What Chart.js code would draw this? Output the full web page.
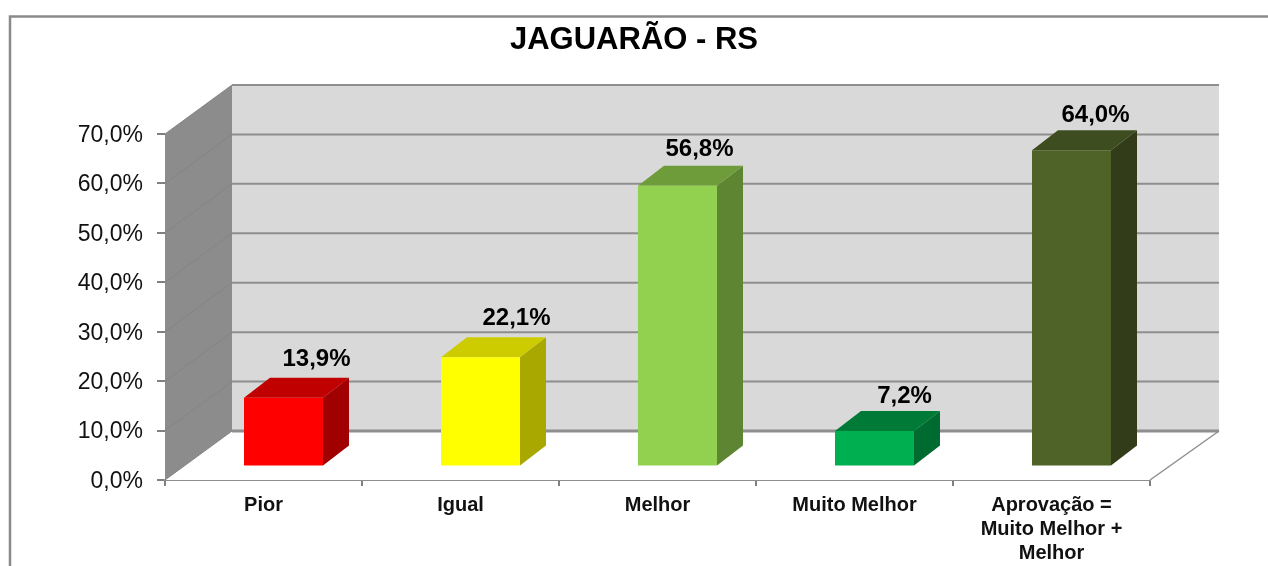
<!DOCTYPE html>
<html lang="pt-BR">
<head>
<meta charset="utf-8">
<title>JAGUARÃO - RS</title>
<script src="https://cdn.jsdelivr.net/npm/chart.js@4"></script>
<style>
html,body{margin:0;padding:0;background:#fff;overflow:hidden}
#wrap{position:relative;width:1268px;height:566px}
canvas{display:block;filter:blur(0.45px)}
</style>
</head>
<body>
<div id="wrap"><canvas id="c" width="1268" height="566"></canvas></div>
<script>
const chartTitle = 'JAGUARÃO - RS';
const categories = ['Pior', 'Igual', 'Melhor', 'Muito Melhor', ['Aprovação =', 'Muito Melhor +', 'Melhor']];
const values = [13.9, 22.1, 56.8, 7.2, 64.0];
const frontColors = ['#FF0000', '#FFFF00', '#92D050', '#00B050', '#4F6228'];
const topColors = ['#C00000', '#CCCC00', '#6E9C3A', '#007A37', '#3E4D1F'];
const sideColors = ['#A00000', '#A8A800', '#5E8632', '#006B30', '#323C18'];
const yTickStep = 10, yMax = 70;

// style / projection of the fake 3D look
const WALL = {dx: 67, dxRight: 69, dy: -49};
const BAR_SHIFT = {dx: 20, dy: -13.5};
const BAR_DEPTH = {dx: 26, dy: -20};
const LABEL_NUDGE = [{dx: 33, dy: -38.5}, {dx: 36, dy: -38.5}, {dx: 22, dy: -36}, {dx: 30, dy: -34.5}, {dx: 24, dy: -35}];
const pct = v => v.toFixed(1).replace('.', ',') + '%';
const FONT = '"Liberation Sans", Arial, sans-serif';

function poly(ctx, pts, fill) {
  ctx.beginPath();
  pts.forEach((p, i) => i ? ctx.lineTo(p[0], p[1]) : ctx.moveTo(p[0], p[1]));
  ctx.closePath();
  ctx.fillStyle = fill;
  ctx.fill();
}

const frame = {
  id: 'frame',
  beforeDraw(chart) {
    const ctx = chart.ctx;
    ctx.save();
    ctx.strokeStyle = '#8a8a8a';
    ctx.lineWidth = 2.5;
    ctx.beginPath();
    ctx.moveTo(10, chart.height);
    ctx.lineTo(10, 16.5);
    ctx.lineTo(chart.width, 16.5);
    ctx.stroke();
    ctx.restore();
  }
};

const scene3d = {
  id: 'scene3d',
  beforeDatasetsDraw(chart) {
    const {ctx, scales: {x, y}} = chart;
    const L = x.left, R = x.right, T = y.getPixelForValue(yMax), B = y.getPixelForValue(0);
    const {dx, dxRight, dy} = WALL;
    ctx.save();
    // floor
    poly(ctx, [[L, B], [R, B], [R + dxRight, B + dy], [L + dx, B + dy]], '#ffffff');
    // back wall
    poly(ctx, [[L + dx, T + dy], [R + dxRight, T + dy], [R + dxRight, B + dy], [L + dx, B + dy]], '#D9D9D9');
    // left wall
    poly(ctx, [[L, T], [L + dx, T + dy], [L + dx, B + dy], [L, B]], '#8C8C8C');
    // grid lines
    y.ticks.forEach(t => {
      const py = y.getPixelForValue(t.value);
      ctx.strokeStyle = '#848484';
      ctx.lineWidth = 1;
      ctx.beginPath();
      ctx.moveTo(L, py);
      ctx.lineTo(L + dx, py + dy);
      ctx.stroke();
      ctx.strokeStyle = '#8E8E8E';
      ctx.lineWidth = t.value === 0 ? 3 : 2;
      ctx.beginPath();
      ctx.moveTo(L + dx, py + dy);
      ctx.lineTo(R + dxRight, py + dy);
      ctx.stroke();
    });
    // floor right edge
    ctx.strokeStyle = '#8E8E8E';
    ctx.lineWidth = 1.5;
    ctx.beginPath();
    ctx.moveTo(R, B);
    ctx.lineTo(R + dxRight, B + dy);
    ctx.stroke();
    ctx.restore();

    // bars: faces, then the library draws the front shifted onto the floor
    ctx.save();
    ctx.translate(BAR_SHIFT.dx, BAR_SHIFT.dy);
    chart.getDatasetMeta(0).data.forEach((bar, i) => {
      const p = bar.getProps(['x', 'y', 'base', 'width'], true);
      const l = p.x - p.width / 2, r = p.x + p.width / 2;
      const ddx = BAR_DEPTH.dx, ddy = BAR_DEPTH.dy;
      poly(ctx, [[r, p.y], [r + ddx, p.y + ddy], [r + ddx, p.base + ddy], [r, p.base]], sideColors[i]);
      poly(ctx, [[l, p.y], [l + ddx, p.y + ddy], [r + ddx, p.y + ddy], [r, p.y]], topColors[i]);
    });
  },
  afterDatasetsDraw(chart) {
    const ctx = chart.ctx;
    ctx.restore();
    ctx.save();
    ctx.font = 'bold 24px ' + FONT;
    ctx.fillStyle = '#000';
    ctx.textAlign = 'center';
    ctx.textBaseline = 'middle';
    chart.getDatasetMeta(0).data.forEach((bar, i) => {
      const p = bar.getProps(['x', 'y'], true);
      ctx.fillText(pct(values[i]),
        p.x + BAR_SHIFT.dx + LABEL_NUDGE[i].dx,
        p.y + BAR_SHIFT.dy + LABEL_NUDGE[i].dy);
    });
    ctx.restore();
  }
};

new Chart(document.getElementById('c'), {
  type: 'bar',
  data: {
    labels: categories,
    datasets: [{
      data: values,
      backgroundColor: frontColors,
      borderWidth: 0,
      categoryPercentage: 1,
      barPercentage: 0.401,
      clip: false
    }]
  },
  plugins: [frame, scene3d],
  options: {
    responsive: false,
    animation: false,
    layout: {padding: 0},
    plugins: {
      legend: {display: false},
      tooltip: {enabled: false},
      title: {
        display: true,
        text: chartTitle,
        color: '#000',
        font: {family: FONT, size: 31, weight: 'bold', lineHeight: 1.2},
        padding: {top: 21.4, bottom: 75.4}
      }
    },
    scales: {
      x: {
        offset: true,
        afterFit(s) { s.height = 86; },
        grid: {display: true, offset: true, drawOnChartArea: false, drawTicks: true, tickLength: 6, color: '#808080', lineWidth: 2},
        border: {display: true, color: '#8E8E8E', width: 2},
        ticks: {
          color: '#111',
          font: {family: FONT, size: 20, weight: 'bold', lineHeight: 1.2},
          padding: 7,
          maxRotation: 0,
          minRotation: 0,
          autoSkip: false
        }
      },
      y: {
        min: 0,
        max: yMax,
        afterFit(s) { s.width = 165; },
        grid: {display: true, drawOnChartArea: false, drawTicks: true, tickLength: 8, color: '#808080', lineWidth: 2},
        border: {display: true, color: '#8C8C8C', width: 1},
        ticks: {
          stepSize: yTickStep,
          color: '#111',
          font: {family: FONT, size: 23},
          padding: 14,
          labelOffset: 1.5,
          callback: v => pct(v)
        }
      },
      // empty right-hand gutter, keeps the title centred on the whole canvas
      gutter: {
        position: 'right',
        axis: 'y',
        display: true,
        afterFit(s) { s.width = 118; },
        grid: {display: false},
        border: {display: false},
        ticks: {display: false}
      }
    }
  }
});
</script>
</body>
</html>
